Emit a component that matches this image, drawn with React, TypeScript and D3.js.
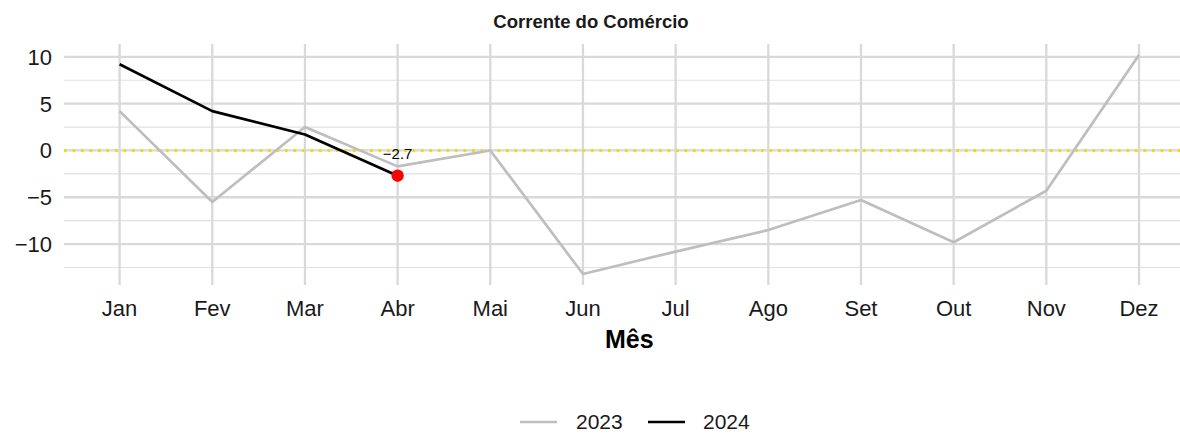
import * as d3 from "d3";

const months = ["Jan", "Fev", "Mar", "Abr", "Mai", "Jun", "Jul", "Ago", "Set", "Out", "Nov", "Dez"];
const values2023 = [4.2, -5.5, 2.5, -1.7, 0.0, -13.2, -10.8, -8.5, -5.3, -9.8, -4.3, 10.2];
const values2024 = [9.2, 4.2, 1.7, -2.7];
const majorTicks = [-10, -5, 0, 5, 10];
const minorTicks = [-12.5, -7.5, -2.5, 2.5, 7.5];
const seriesNames = ["2023", "2024"];

const W = 1180, H = 434;
const P = { left: 64, right: 1194.6, top: 44, bottom: 285 };
const FONT = "'Liberation Sans', Arial, Helvetica, sans-serif";

export default function App() {
  const x = d3.scalePoint<string>().domain(months).range([P.left, P.right]).padding(0.6);
  const all = [...values2023, ...values2024];
  const lo = d3.min(all) ?? 0, hi = d3.max(all) ?? 0;
  const pad = (hi - lo) * 0.05;
  const y = d3.scaleLinear().domain([lo - pad, hi + pad]).range([P.bottom, P.top]);

  const line = d3.line<number>().x((_, i) => x(months[i]) ?? 0).y((d) => y(d));
  const last = values2024.length - 1;
  const lx = x(months[last]) ?? 0, ly = y(values2024[last]);
  const cx = (P.left + P.right) / 2;

  return (
    <svg width={W} height={H} style={{ position: "absolute", left: 0, top: 0, background: "#fff" }} fontFamily={FONT}>
      {minorTicks.map((t) => (
        <line key={"mn" + t} x1={P.left} x2={P.right} y1={y(t)} y2={y(t)} stroke="#e1e1e1" strokeWidth={1.2} />
      ))}
      {majorTicks.map((t) => (
        <line key={"mj" + t} x1={P.left} x2={P.right} y1={y(t)} y2={y(t)} stroke="#d9d9d9" strokeWidth={2.3} />
      ))}
      {months.map((m) => (
        <line key={"v" + m} x1={x(m)} x2={x(m)} y1={P.top} y2={P.bottom} stroke="#d9d9d9" strokeWidth={2.3} />
      ))}

      <line x1={P.left} x2={P.right} y1={y(0)} y2={y(0)} stroke="#FFD700" strokeWidth={3} strokeDasharray="2.6 5.9" />

      <path d={line(values2023) ?? ""} fill="none" stroke="#bebebe" strokeWidth={2.7} strokeLinejoin="round" />
      <path d={line(values2024) ?? ""} fill="none" stroke="#000" strokeWidth={2.7} strokeLinejoin="round" />
      <circle cx={lx} cy={ly} r={6.2} fill="#ff0000" />
      <text x={lx} y={ly - 17} textAnchor="middle" fontSize={15} fill="#000">
        {"\u2212" + Math.abs(values2024[last]).toFixed(1)}
      </text>

      {majorTicks.map((t) => (
        <text key={"yt" + t} x={52} y={y(t)} dy="0.36em" textAnchor="end" fontSize={22} fill="#1a1a1a">
          {t < 0 ? "\u2212" + Math.abs(t) : String(t)}
        </text>
      ))}
      {months.map((m) => (
        <text key={"xt" + m} x={x(m)} y={316} textAnchor="middle" fontSize={22} fill="#1a1a1a">{m}</text>
      ))}

      <text x={cx} y={348} textAnchor="middle" fontSize={25} fontWeight="bold" fill="#000">Mês</text>
      <text x={591} y={28} textAnchor="middle" fontSize={18.5} fontWeight="bold" fill="#1a1a1a">Corrente do Comércio</text>

      <g transform="translate(520,422)">
        <line x1={0} x2={37} stroke="#bebebe" strokeWidth={2.7} />
        <text x={56} y={7} fontSize={21} fill="#1a1a1a">{seriesNames[0]}</text>
        <line x1={128} x2={165} stroke="#000" strokeWidth={2.7} />
        <text x={183} y={7} fontSize={21} fill="#1a1a1a">{seriesNames[1]}</text>
      </g>
    </svg>
  );
}
